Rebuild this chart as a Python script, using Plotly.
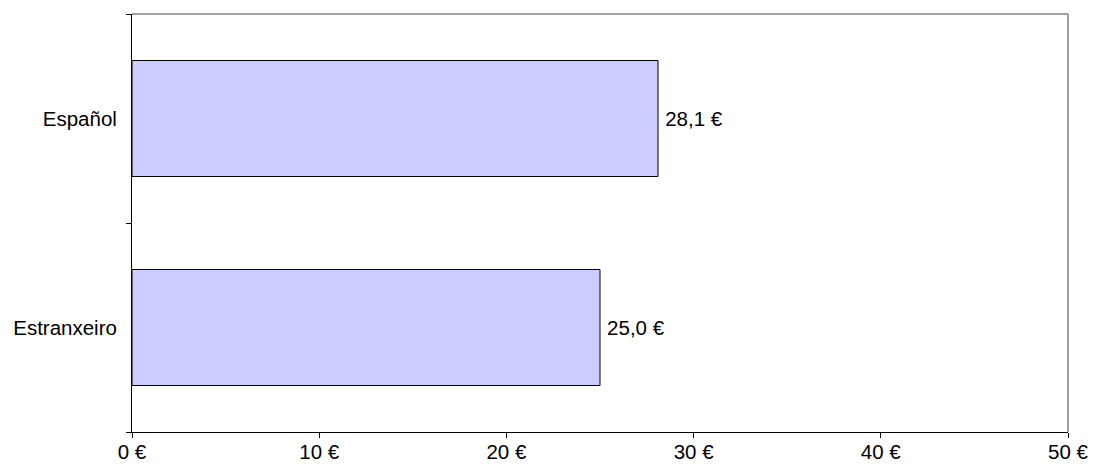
import plotly.graph_objects as go

categories = ["Estranxeiro", "Español"]
values = [25.0, 28.1]
x_ticks = [0, 10, 20, 30, 40, 50]
x_tick_labels = ["0 €", "10 €", "20 €", "30 €", "40 €", "50 €"]

positions = list(range(len(categories)))
font = dict(family="Liberation Sans, Arial, sans-serif", size=20.5, color="black")

fig = go.Figure()
fig.add_trace(go.Bar(
    x=values, y=positions, orientation="h",
    marker=dict(color="#CCCCFF", line=dict(color="black", width=1)),
    width=0.555,
    texttemplate="\u2009%{x:.1f} €", textposition="outside",
    textfont=font, cliponaxis=False,
))
fig.add_trace(go.Scatter(x=[None], y=[None], yaxis="y2", showlegend=False))

fig.update_layout(
    width=1101, height=465,
    margin=dict(l=124, r=41, t=6, b=41, autoexpand=False),
    paper_bgcolor="white", plot_bgcolor="white",
    separators=", ",
    showlegend=False,
    font=font,
    xaxis=dict(
        range=[0, 50], tickmode="array", tickvals=x_ticks, ticktext=x_tick_labels,
        showgrid=False, zeroline=False,
        showline=True, linecolor="black", linewidth=1,
        ticks="outside", ticklen=5, tickcolor="black", tickwidth=1,
        ticklabelstandoff=-4,
        tickfont=font, automargin=False,
    ),
    yaxis=dict(
        range=[-0.5, len(categories) - 0.5],
        tickmode="array", tickvals=positions, ticktext=categories,
        showgrid=False, zeroline=False,
        showline=True, linecolor="black", linewidth=1,
        ticks="outside", ticklen=10, tickcolor="rgba(0,0,0,0)",
        tickfont=font, automargin=False,
    ),
    yaxis2=dict(
        overlaying="y", side="left",
        range=[-0.5, len(categories) - 0.5],
        tickmode="array",
        tickvals=[p - 0.5 for p in positions] + [len(categories) - 0.5],
        showticklabels=False, showgrid=False, zeroline=False,
        ticks="outside", ticklen=5, tickcolor="black", tickwidth=1,
        automargin=False,
    ),
    shapes=[
        dict(type="line", xref="paper", yref="paper", x0=0, x1=1, y0=1, y1=1,
             line=dict(color="#808080", width=1.5)),
        dict(type="line", xref="paper", yref="paper", x0=1, x1=1, y0=0, y1=1,
             line=dict(color="#808080", width=1.5)),
    ],
)

fig.write_html("out.html")
